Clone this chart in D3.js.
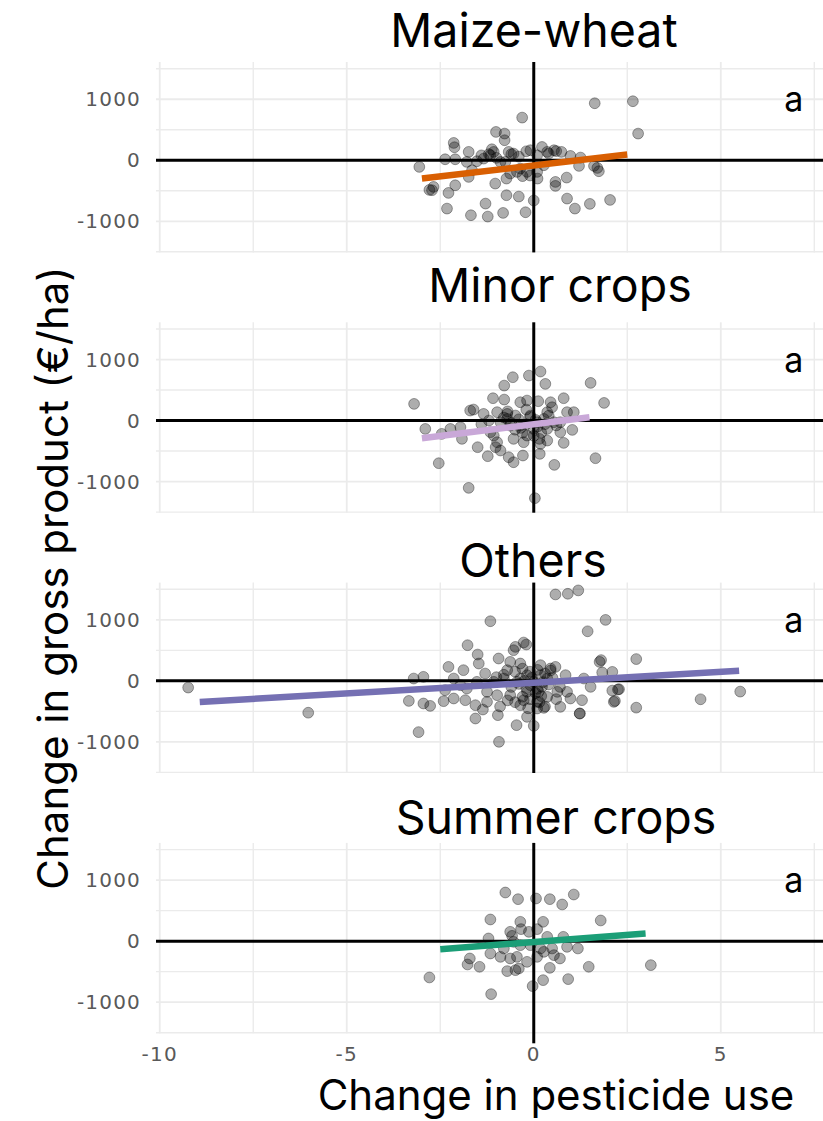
<!DOCTYPE html>
<meta charset="UTF-8">
<style>
    body { margin: 0; background: #fff; }
    svg { display: block; }
    .tick-label { font-family: "DejaVu Sans", sans-serif; font-size: 20px; letter-spacing: 1.2px; fill: #595959; }
    .title { font-family: Inter, "Noto Sans", sans-serif; fill: #000; }
</style>
<body>
<div id="chart"></div>
<script src="https://d3js.org/d3.v7.min.js"></script>
<script>

// facet names
var panels = ["Maize-wheat", "Minor crops", "Others", "Summer crops"];

// points: change in pesticide use (x), change in gross product (y)
var maizeWheatX = [1.63, 2.65, 2.79, -0.31, -1.01, -0.78, -0.78, -2.14, -2.12, -1.74, -2.37, -2.10, -3.06, -1.12, -1.16, -1.34, -1.52, -0.67, -0.54, -0.20, 0.22, 0.54, 0.74, 0.98, 1.25, 1.21, 1.61, 1.74, 1.70, 0.09, -0.09, 0.36, -2.72, -2.79, -2.68, -2.28, -2.10, -1.74, -1.65, -1.03, -0.73, -0.63, -0.45, -0.18, 0.09, 0.58, 0.58, 0.88, -2.32, -1.29, -0.73, -0.40, 0.00, -1.68, -1.23, -0.82, -0.22, 0.89, 1.10, 1.50, 2.04, -0.89, -1.79, -1.07, -0.76, -0.36, 0.27,
    -1.40, -1.20, -1.00, -0.60, -0.40, -0.10, 0.10, -0.30, 0.40, 0.60];
var maizeWheatY = [934, 967, 437, 699, 464, 437, 328, 284, 213, 137, 16, 16, -109, 180, 82, 27, -16, 137, 109, 147, 218, 164, 137, 71, 44, -93, -93, -180, -126, 82, 164, 137, -491, -486, -437, -535, -410, -273, -164, -382, -300, -218, -191, -191, -191, -355, -420, -284, -792, -710, -573, -595, -660, -901, -923, -863, -852, -628, -792, -715, -650, -27, -27, 137, -27, -137, -82,
    80, 100, 40, 100, 60, -250, -300, -260, 110, 150];

var minorCropsX = [-3.20, -2.90, -2.46, -2.54, -1.74, 0.03, 1.52, 1.88, 1.65, 0.55, 0.18, -0.13, 0.31, -0.56, -0.79, -1.09, -0.79, -0.36, -0.18, 0.12, 0.45, 0.49, 0.80, -1.70, -1.61, -1.34, -0.98, -0.71, -0.49, 0.89, 1.07, -1.96, -1.92, -1.50, -1.23, -1.02, -0.89, -0.67, -0.54, -0.29, 0.16, 0.18, 0.36, 0.80, 1.03, 0.71, -1.07, -0.54, -0.18, 0.00, -0.89, -1.16, 0.36, 0.54, -0.36, -0.71, -0.09, 0.27, -0.27, -0.98, -2.23, -0.63, 0.09, 0.36, 0.71,
    -0.80, -0.60, -0.40, -0.20, -0.10, 0.10, 0.20, 0.30, -0.30, -0.50, 0.00, 0.15, -0.70, -0.20, 0.40, 0.60, -1.20, -1.40, 0.05, -0.35];
var minorCropsY = [273, -137, -218, -699, -1103, -1272, 617, 289, -617, -726, 803, 737, 601, 710, 573, 366, 344, 300, 328, 317, 300, 218, 366, 164, 180, 109, 137, 109, 82, 137, 137, -109, -300, -437, -584, -437, -491, -601, -683, -573, -546, -382, -328, -366, -153, -191, -246, -300, -246, -137, -27, -191, -137, -27, -82, 27, 82, 27, -355, -355, -137, -82, -27, 137, -27,
    50, -40, 20, -60, 60, -100, -200, -60, -200, -150, -250, -300, 150, 180, 80, -80, 0, -60, 10, -120];

var othersX = [-9.24, -6.03, -3.08, 4.46, 5.52, 2.74, 2.74, 1.92, 1.44, 0.58, 0.91, 1.19, -1.16, -0.93, -3.34, 2.17, 2.28, 1.80, 1.76, 1.83, 2.10, 2.25, 2.14, 1.52, 1.29, 1.23, 0.71, 0.27, 0.09, 0.00, -0.18, -0.46, -0.96, -1.56, -1.36, -1.56, -1.83, -2.14, -2.41, -2.77, -2.95, -2.28, -2.95, -3.21, -1.88, -1.77, -1.50, -1.47, -0.94, -0.54, -0.49, -0.27, -0.20, -0.36, -0.71, -0.63, 0.18, 0.45, 0.58, 0.85, 0.18, 0.36, 0.63, 0.98, 0.36, 0.13, -0.18, -0.36, -0.63, -0.98, -1.25, -1.07, -1.52, -1.96, -2.14, -0.18, -0.45, -0.09, 0.00, 0.22, 0.89, 1.34, -0.36, -0.80, -0.27, 0.09, -1.25, -2.37, -1.79,
    -0.50, -0.30, -0.10, 0.10, 0.30, -0.40, -0.20, 0.05, 0.20, -0.10, 0.15, -0.30, -0.60, -0.80, 0.40, 0.50, -0.05, 0.25, -0.15, 0.30, -0.50, 0.60, -0.70, -1.00, -1.30, 0.70, 0.10, -0.25, 0.45, -0.90, 1.23, 2.10];
var othersY = [-110, -522, -840, -302, -176, -439, 357, 999, 812, 1416, 1427, 1482, 977, -999, -329, -329, -137, 340, 311, 137, 147, -142, -344, -98, -317, -535, -426, -442, -344, -737, -590, -726, -562, -617, -470, -399, -317, -289, -333, -410, -371, 229, 66, 38, 175, 584, 431, 284, 366, 502, 557, 628, 595, 284, 175, 311, 257, 202, 229, 93, 93, 38, -180, -289, -262, -180, -180, -399, -235, -235, -180, -16, -16, -71, 38, 93, -16, -71, -16, -98, -180, 38, 38, 38, -317, -453, -344, -153, -126,
    150, 200, 150, 180, 120, -50, -120, -200, -250, -300, -350, -260, -100, 100, -60, 50, 50, -20, -450, -420, -350, -300, -320, 60, 120, -100, -130, 0, 170, -420, -535, -160];

var summerCropsX = [-0.76, -0.42, 0.06, 0.43, 0.76, 1.07, 1.79, -1.16, -0.36, 0.25, -0.34, -0.13, 0.09, -0.63, -0.58, -1.21, 0.36, 0.79, 0.89, 1.18, 0.49, -1.16, -0.89, -0.63, -0.45, -0.18, -1.71, -1.77, -1.45, -0.71, -0.49, -0.40, 0.43, 0.70, 1.47, 0.92, 0.25, -0.03, -1.14, -2.79, 3.13, 0.18, -0.09, 0.27, 0.54, -0.80, -0.36, 0.09, -0.54];
var summerCropsY = [797, 688, 699, 688, 601, 764, 339, 355, 317, 317, 197, 153, 197, 153, 87, 44, 71, 71, -93, -120, -120, -202, -257, -284, -257, -339, -284, -382, -420, -491, -475, -448, -437, -284, -420, -622, -639, -737, -868, -595, -393, -120, -66, -175, -229, -120, -66, -257, -11];

// linear fits drawn per facet
var fitSlope = [71.6, 77, 35.4, 46.8];
var fitIntercept = [-86, -60, -30, -14];
var fitFrom = [-2.99, -2.99, -8.93, -2.5];
var fitTo = [2.5, 1.49, 5.49, 2.99];
var fitColors = ["#d95f02", "#c9a8d8", "#7570b3", "#1b9e77"];

// significance letter per facet
var letters = ["a", "a", "a", "a"];

// tick labels
var xTicks = [-10, -5, 0, 5];
var yTicks = [-1000, 0, 1000];

var panelX = [maizeWheatX, minorCropsX, othersX, summerCropsX];
var panelY = [maizeWheatY, minorCropsY, othersY, summerCropsY];

// layout
var width = 823, height = 1121;
var panelTop = [62, 322.3, 582.6, 842.9];
var panelHeight = 190.4;
var titleCx = [534, 560, 533, 556];
var titleBase = [47, 302, 577, 834];

var x = d3.scaleLinear().domain([-10.1, 7.8]).range([156, 825.5]);
var yFor = function(i) {
    return d3.scaleLinear().domain([-1510, 1610]).range([panelTop[i] + panelHeight, panelTop[i]]);
};

var svg = d3.select("#chart").append("svg")
    .attr("width", width)
    .attr("height", height);

svg.append("rect").attr("width", width).attr("height", height).attr("fill", "#fff");

panels.forEach(function(name, i) {
    var y = yFor(i);
    var g = svg.append("g");
    var x0 = x.range()[0], x1 = x.range()[1];
    var top = panelTop[i], bottom = panelTop[i] + panelHeight;

    // grid lines
    g.selectAll(".gx")
        .data(d3.range(-10, 8, 2.5))
        .enter().append("line")
        .attr("x1", function(d) { return x(d); })
        .attr("x2", function(d) { return x(d); })
        .attr("y1", top).attr("y2", bottom)
        .attr("stroke", "#ebebeb")
        .attr("stroke-width", function(d) { return d % 5 === 0 ? 1.8 : 1.4; });

    g.selectAll(".gy")
        .data(d3.range(-1500, 1501, 500))
        .enter().append("line")
        .attr("x1", x0).attr("x2", x1)
        .attr("y1", function(d) { return y(d); })
        .attr("y2", function(d) { return y(d); })
        .attr("stroke", "#ebebeb")
        .attr("stroke-width", function(d) { return d % 1000 === 0 ? 1.8 : 1.4; });

    // reference lines at zero
    g.append("line")
        .attr("x1", x0).attr("x2", x1)
        .attr("y1", y(0)).attr("y2", y(0))
        .attr("stroke", "#000").attr("stroke-width", 3);
    g.append("line")
        .attr("x1", x(0)).attr("x2", x(0))
        .attr("y1", top).attr("y2", i === 3 ? bottom + 10 : bottom)
        .attr("stroke", "#000").attr("stroke-width", 3);

    // points
    var pts = panelX[i].map(function(v, k) { return [v, panelY[i][k]]; });
    g.selectAll(".pt")
        .data(pts)
        .enter().append("circle")
        .attr("cx", function(d) { return x(d[0]); })
        .attr("cy", function(d) { return y(d[1]); })
        .attr("r", 5.4)
        .attr("fill", "#000")
        .attr("fill-opacity", 0.32)
        .attr("stroke", "#000")
        .attr("stroke-opacity", 0.35)
        .attr("stroke-width", 1);

    // fit line
    var fit = [fitFrom[i], fitTo[i]];
    g.append("path")
        .datum(fit)
        .attr("fill", "none")
        .attr("stroke", fitColors[i])
        .attr("stroke-width", 6.5)
        .attr("d", d3.line()
            .x(function(d) { return x(d); })
            .y(function(d) { return y(fitIntercept[i] + fitSlope[i] * d); }));

    // letter
    g.append("text")
        .attr("class", "title")
        .attr("x", x(6.95))
        .attr("y", y(1000))
        .attr("dy", "0.36em")
        .attr("text-anchor", "middle")
        .attr("font-size", 34)
        .text(letters[i]);

    // y tick labels
    g.selectAll(".yt")
        .data(yTicks)
        .enter().append("text")
        .attr("class", "tick-label")
        .attr("x", 141)
        .attr("y", function(d) { return y(d); })
        .attr("dy", "0.36em")
        .attr("text-anchor", "end")
        .text(function(d) { return d; });

    // facet title
    svg.append("text")
        .attr("class", "title")
        .attr("x", titleCx[i])
        .attr("y", titleBase[i])
        .attr("text-anchor", "middle")
        .attr("font-size", 46.5)
        .text(name);
});

// x tick labels under the last panel
svg.selectAll(".xt")
    .data(xTicks)
    .enter().append("text")
    .attr("class", "tick-label")
    .attr("x", function(d) { return x(d); })
    .attr("y", 1061)
    .attr("text-anchor", "middle")
    .text(function(d) { return d; });

// axis titles
svg.append("text")
    .attr("class", "title")
    .attr("x", 556)
    .attr("y", 1110)
    .attr("text-anchor", "middle")
    .attr("font-size", 42)
    .text("Change in pesticide use");

svg.append("text")
    .attr("class", "title")
    .attr("transform", "translate(68,578) rotate(-90)")
    .attr("text-anchor", "middle")
    .attr("font-size", 42)
    .text("Change in gross product (€/ha)");

</script>
</body>
